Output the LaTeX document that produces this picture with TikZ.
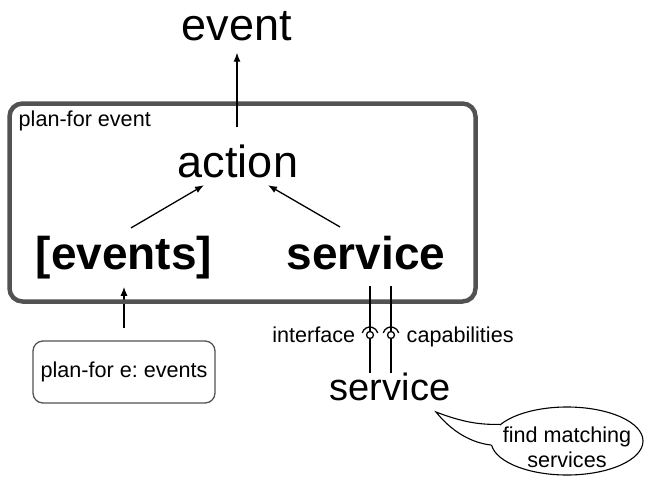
\documentclass[tikz,border=0pt]{standalone}
\usepackage{fontspec}
\setmainfont{Liberation Sans}
\frenchspacing
\usetikzlibrary{arrows.meta,shapes.geometric,backgrounds}
\begin{document}
\begin{tikzpicture}[x=1pt,y=-1pt,thick,
  big/.style={font=\fontsize{45}{54}\selectfont},
  bigbold/.style={font=\fontsize{46}{55}\selectfont\bfseries},
  mid/.style={font=\fontsize{38}{46}\selectfont},
  small/.style={font=\fontsize{21.6}{25}\selectfont},
  arrow/.style={line width=1.3pt,-{Latex[length=9pt,width=7pt]}},
  plain/.style={line width=1.3pt},
  container/.style={draw=black!68,line width=4.5pt,rounded corners=13pt,minimum width=466pt,minimum height=198pt},
  roundbox/.style={draw=black!68,line width=1.3pt,rounded corners=10pt,minimum width=182pt,minimum height=62pt}]
  \useasboundingbox (0,0) rectangle (646,477);
  \node[container] (planfor) at (242.5,202.5) {};
  \node[small,anchor=base west] (planlabel) at (15,126) {plan-for event};
  \node[big,anchor=base] (event) at (237,40) {event};
  \node[big,anchor=base] (action) at (238,177) {action};
  \node[bigbold,anchor=base] (events) at (124,269) {[events]};
  \node[bigbold,anchor=base] (service) at (366,269) {service};
  \node[roundbox,small] (pfe) at (124,372) {plan-for e: events};
  \node[mid,anchor=base] (provider) at (390,400) {service};
  \node[small,anchor=base east] (iflabel) at (359,342) {interface};
  \node[small,anchor=base west] (caplabel) at (403,342) {capabilities};
  \coordinate (ifball) at (370,335);
  \coordinate (capball) at (391,335);
  \coordinate (tip) at (436,412);
  \draw[arrow,shorten <=13.5pt,shorten >=8.5pt] (action.north -| event.south) -- (event.south);
  \draw[arrow] ([xshift=7pt,yshift=4pt]events.north) -- ([xshift=-34pt,yshift=-4pt]action.south);
  \draw[arrow] ([xshift=-26pt,yshift=5pt]service.north) -- ([xshift=30pt,yshift=-4pt]action.south);
  \begin{scope}[on background layer]
    \draw[arrow,shorten <=12pt,shorten >=-17pt] (pfe.north) -- (planfor.south -| pfe.north);
  \end{scope}
  \draw[plain,shorten <=13pt] (service.south -| ifball) -- ([yshift=3.5pt]ifball);
  \draw[plain,shorten >=-4.5pt] ([yshift=-3.5pt]ifball) -- (provider.north -| ifball);
  \draw[plain] (ifball) circle (3.5pt);
  \draw[plain] (ifball) ++(165:8pt) arc (165:15:8pt);
  \draw[plain,shorten <=13pt] (service.south -| capball) -- ([yshift=3.5pt]capball);
  \draw[plain,shorten >=-4.5pt] ([yshift=-3.5pt]capball) -- (provider.north -| capball);
  \draw[plain] (capball) circle (3.5pt);
  \draw[plain] (capball) ++(165:8pt) arc (165:15:8pt);
  \node[ellipse,draw,line width=1.1pt,inner sep=0pt,minimum width=152pt,minimum height=68pt] (bubble) at (567,441) {};
  \fill[white] (bubble.166) .. controls (480,425) and (462,422) .. (tip) .. controls (452,432) and (472,443) .. (bubble.183) -- ([xshift=8pt]bubble.west) -- cycle;
  \draw[line width=1.1pt] (bubble.166) .. controls (480,425) and (462,422) .. (tip) .. controls (452,432) and (472,443) .. (bubble.183);
  \node[small,align=center] (bubbletext) at (567,447) {find matching\\services};
\end{tikzpicture}
\end{document}
